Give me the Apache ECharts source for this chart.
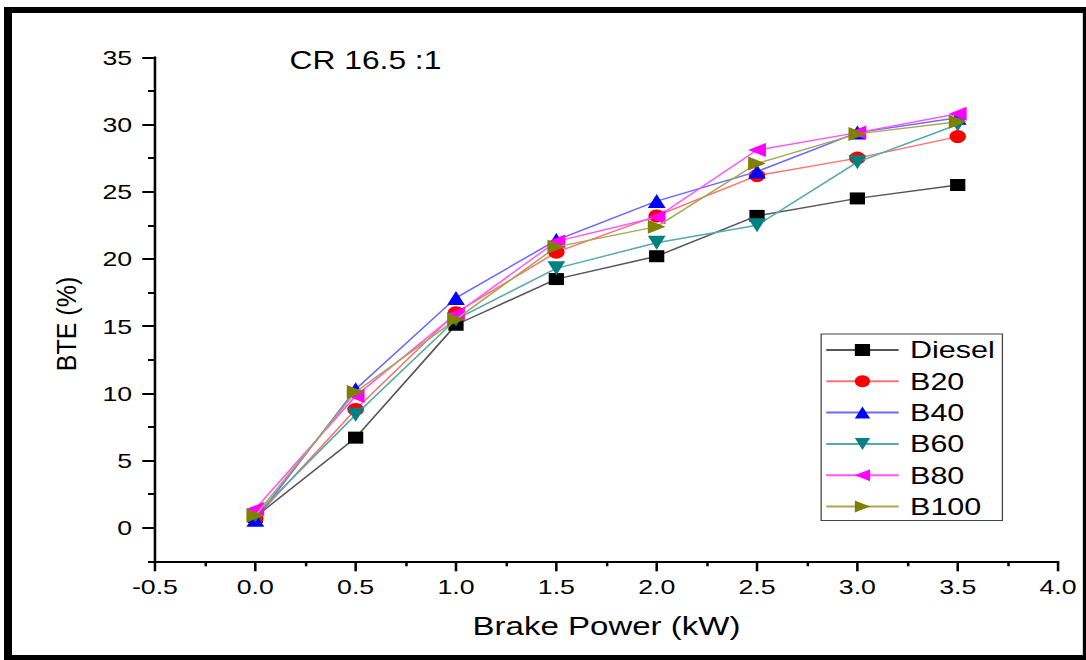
<!DOCTYPE html>
<html>
<head>
<meta charset="utf-8">
<script src="https://cdn.jsdelivr.net/npm/echarts@6/dist/echarts.min.js"></script>
<style>
  html, body { margin: 0; padding: 0; background: #fff; overflow: hidden; width: 1086px; height: 660px; }
  #c { position: absolute; left: 0; top: 0; width: 855px; height: 660px; transform: scaleX(1.27018); transform-origin: 0 0; }
</style>
</head>
<body>
<div id="c"></div>
<script>
// ---- data ----
const brakePower = [0, 0.5, 1.0, 1.5, 2.0, 2.5, 3.0, 3.5];
const diesel = [0.8, 6.7, 15.1, 18.5, 20.2, 23.2, 24.5, 25.5];
const b20    = [0.7, 8.8, 16.0, 20.5, 23.2, 26.2, 27.5, 29.1];
const b40    = [0.6, 10.3, 17.1, 21.4, 24.3, 26.5, 29.4, 30.5];
const b60    = [0.9, 8.4, 15.5, 19.3, 21.2, 22.5, 27.2, 30.0];
const b80    = [1.4, 9.8, 15.9, 21.3, 23.1, 28.1, 29.4, 30.8];
const b100   = [0.9, 10.1, 15.5, 20.9, 22.4, 27.1, 29.3, 30.2];
const seriesNames = ['Diesel', 'B20', 'B40', 'B60', 'B80', 'B100'];
const xMajorTicks = [-0.5, 0, 0.5, 1.0, 1.5, 2.0, 2.5, 3.0, 3.5, 4.0];
const xMinorTicks = [-0.25, 0.25, 0.75, 1.25, 1.75, 2.25, 2.75, 3.25, 3.75];
const yMajorTicks = [0, 5, 10, 15, 20, 25, 30, 35];
const yMinorTicks = [-2.5, 2.5, 7.5, 12.5, 17.5, 22.5, 27.5, 32.5];
const chartNote = 'CR 16.5 :1';
const xTitle = 'Brake Power (kW)';
const yTitle = 'BTE (%)';

const S = 1086 / 855;
const FONT = '"Liberation Sans", Arial, sans-serif';

const styles = [
  { color: '#000000', line: '#555555', symbol: 'rect', size: 12, rot: 0 },
  { color: '#ff0000', line: '#ff7070', symbol: 'circle', size: 13, rot: 0 },
  { color: '#0000ff', line: '#6a6aff', symbol: 'triangle', size: 14, rot: 0 },
  { color: '#008080', line: '#55aaaa', symbol: 'triangle', size: 14, rot: 180 },
  { color: '#ff00ff', line: '#ff55ff', symbol: 'triangle', size: 14, rot: 90 },
  { color: '#808000', line: '#a8a855', symbol: 'triangle', size: 14, rot: -90 }
];
const allData = [diesel, b20, b40, b60, b80, b100];

const series = allData.map((vals, i) => ({
  name: seriesNames[i],
  type: 'line',
  xAxisIndex: 0,
  yAxisIndex: 0,
  data: brakePower.map((x, j) => [x, vals[j]]),
  symbol: styles[i].symbol,
  symbolSize: styles[i].size,
  symbolRotate: styles[i].rot,
  showAllSymbol: true,
  itemStyle: { color: styles[i].color, opacity: 1 },
  lineStyle: { color: styles[i].line, width: 1.4 },
  emphasis: { disabled: true },
  animation: false,
  z: 2 + i
}));

const axisLineStyle = { color: '#000', width: 2 };
const chart = echarts.init(document.getElementById('c'), null, { renderer: 'svg' });
chart.setOption({
  backgroundColor: '#fff',
  animation: false,
  grid: { left: 122, right: 22, top: 57.3, bottom: 98.7 },
  xAxis: [
    {
      type: 'value', min: -0.5, max: 4.0, position: 'bottom',
      axisLine: { show: true, onZero: false, lineStyle: axisLineStyle },
      axisTick: { show: true, inside: false, length: 10, customValues: xMajorTicks, lineStyle: { color: '#000', width: 2 } },
      axisLabel: { show: true, customValues: xMajorTicks, margin: 15, fontSize: 21, fontFamily: FONT, color: '#000',
        formatter: v => (Math.abs(v) < 1e-9 ? 0 : v).toFixed(1) },
      splitLine: { show: false },
      name: xTitle, nameLocation: 'middle', nameGap: 52,
      nameTextStyle: { fontSize: 26, fontFamily: FONT, color: '#000' }
    },
    {
      type: 'value', min: -0.5, max: 4.0, position: 'bottom', offset: 0,
      axisLine: { show: false, onZero: false },
      axisTick: { show: true, inside: false, length: 5, customValues: xMinorTicks, lineStyle: { color: '#000', width: 2 } },
      axisLabel: { show: false },
      splitLine: { show: false }
    }
  ],
  yAxis: [
    {
      type: 'value', min: -2.5, max: 35, position: 'left',
      axisLine: { show: true, onZero: false, lineStyle: axisLineStyle },
      axisTick: { show: true, inside: false, length: 10, customValues: yMajorTicks, lineStyle: { color: '#000', width: 2 } },
      axisLabel: { show: true, customValues: yMajorTicks, margin: 18, fontSize: 21, fontFamily: FONT, color: '#000' },
      splitLine: { show: false }
    },
    {
      type: 'value', min: -2.5, max: 35, position: 'left', offset: 0,
      axisLine: { show: false, onZero: false },
      axisTick: { show: true, inside: false, length: 5.5, customValues: yMinorTicks, lineStyle: { color: '#000', width: 2 } },
      axisLabel: { show: false },
      splitLine: { show: false }
    }
  ],
  legend: {
    data: seriesNames,
    orient: 'vertical',
    left: 646.5,
    top: 334,
    itemWidth: 57,
    itemHeight: 15,
    itemGap: 7.3,
    padding: [4, 6, 2, 3],
    borderColor: '#444',
    borderWidth: 1,
    backgroundColor: '#fff',
    selectedMode: false,
    textStyle: { fontSize: 24, fontFamily: FONT, color: '#000', padding: [0, 0, 0, 4] }
  },
  graphic: [
    { type: 'rect', silent: true, shape: { x: 3.15, y: 7, width: 852, height: 6 }, style: { fill: '#000' } },
    { type: 'rect', silent: true, shape: { x: 3.15, y: 7, width: 6.3, height: 653 }, style: { fill: '#000' } },
    { type: 'rect', silent: true, shape: { x: 3.15, y: 655, width: 852, height: 5 }, style: { fill: '#000' } },
    { type: 'rect', silent: true, shape: { x: 852.5, y: 7, width: 2.5, height: 653 }, style: { fill: '#000' } },
    { type: 'text', silent: true, x: 228, y: 60,
      style: { text: chartNote, fontSize: 25, fontFamily: FONT, fill: '#000', align: 'left', verticalAlign: 'middle' } },
    { type: 'text', silent: true, x: 52.8, y: 324, rotation: Math.PI / 2, scaleX: 1, scaleY: 1.1 / S,
      style: { text: yTitle, fontSize: 25, fontFamily: FONT, fill: '#000', align: 'center', verticalAlign: 'middle' } }
  ],
  series: series
});
</script>
</body>
</html>
